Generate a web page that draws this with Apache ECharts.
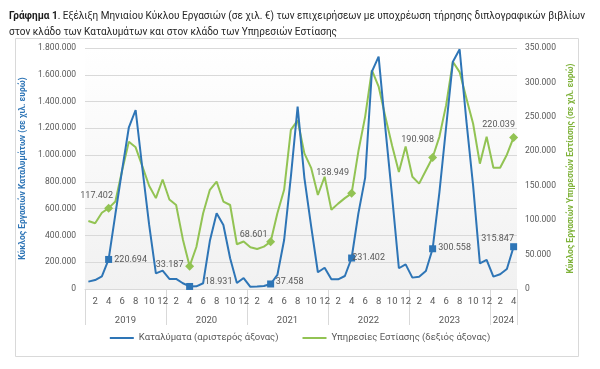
<!DOCTYPE html>
<html><head><meta charset="utf-8">
<script src="https://cdn.jsdelivr.net/npm/echarts@6/dist/echarts.min.js"></script>
<style>html,body{margin:0;padding:0;background:#fff}#c{width:600px;height:369px}</style>
</head><body><div id="c"></div>
<script>
// ---- data ----
const monthLabels = ['1','2','3','4','5','6','7','8','9','10','11','12',
  '1','2','3','4','5','6','7','8','9','10','11','12',
  '1','2','3','4','5','6','7','8','9','10','11','12',
  '1','2','3','4','5','6','7','8','9','10','11','12',
  '1','2','3','4','5','6','7','8','9','10','11','12',
  '1','2','3','4'];
const yearLabels = ['2019','2020','2021','2022','2023','2024'];
const yearBoundaries = [0,12,24,36,48,60,64];
const yearCenters = [6,18,30,42,54,62];

const accommodation = [
  55000, 67000, 95000, 220694, 560000, 890000, 1208000, 1337000, 900000, 480000, 117000, 137000,
  75000, 75000, 43000, 18931, 20000, 43000, 360000, 565000, 478000, 230000, 45000, 82000,
  16000, 18000, 22000, 37458, 105000, 366000, 840000, 1362000, 830000, 470000, 125000, 159000,
  72000, 72000, 97000, 231402, 565000, 830000, 1623000, 1735000, 1200000, 690000, 155000, 184000,
  85000, 92000, 134000, 300558, 720000, 1210000, 1698000, 1790000, 1255000, 770000, 192000, 217000,
  92000, 110000, 149000, 315847
];
const foodService = [
  98700, 95400, 110800, 117402, 127000, 172000, 214000, 205700, 178000, 150000, 132000, 159000,
  130000, 122000, 72000, 33187, 61000, 110000, 144000, 156000, 127000, 122000, 65000, 69000,
  60500, 58000, 61500, 68601, 110000, 144000, 231000, 245000, 197000, 176000, 136500, 163000,
  115000, 124000, 132000, 138949, 200000, 250000, 318000, 294000, 250000, 208000, 170000, 207000,
  163000, 153000, 172000, 190908, 221000, 267000, 330000, 315000, 277000, 240000, 182000, 221000,
  176000, 176000, 195000, 220039
];
const markedIdx = [3,15,27,39,51,63];

// ---- styling ----
const FONT = "Roboto,sans-serif";
const GRAY = '#595959';
const BLUE = '#2E75B6';
const GREEN = '#92C353';
const blueLabelOffsets = [[22,0],[29,-5],[19,-2],[17,0],[22,-1],[-16,-8]];
const greenLabelOffsets = [[-12,-12],[-20,-1],[-17,-7],[-19,-21],[-15,-18],[-15,-13]];

function fmt(v){ return String(Math.round(v)).replace(/\B(?=(\d{3})+(?!\d))/g,'.'); }

function build(values, symbol, offsets){
  return values.map((v,i)=>{
    const k = markedIdx.indexOf(i);
    if (k < 0) return {value:v, symbol:'none'};
    return {value:v, symbol:symbol, symbolSize: symbol==='diamond'?9:7,
      label:{show:true, position:'inside', offset:offsets[k], formatter:fmt(v),
        color:GRAY, fontSize:9, fontFamily:FONT}};
  });
}

const chart = echarts.init(document.getElementById('c'), null, {renderer:'canvas'});
chart.setOption({
  animation:false,
  backgroundColor:'#fff',
  textStyle:{fontFamily:FONT},
  title:{
    left:4, top:3,
    text:'{b|Γράφημα 1}. Εξέλιξη Μηνιαίου Κύκλου Εργασιών (σε χιλ. €) των επιχειρήσεων με υποχρέωση τήρησης διπλογραφικών βιβλίων\nστον κλάδο των Καταλυμάτων και στον κλάδο των Υπηρεσιών Εστίασης',
    textStyle:{fontSize:10, fontWeight:'normal', color:'#262626', fontFamily:FONT, lineHeight:16,
      rich:{b:{fontSize:10, fontWeight:'bold', color:'#1a1a1a', fontFamily:FONT, lineHeight:16}}}
  },
  graphic:[{type:'rect', shape:{x:15.5,y:38.5,width:563,height:318}, style:{fill:'none', stroke:'#d9d9d9', lineWidth:1}, z:-10}],
  grid:{left:85, right:83, top:48, bottom:80, show:true, borderWidth:0,
    backgroundColor:new echarts.graphic.LinearGradient(0,0,0,1,[{offset:0,color:'#ffffff'},{offset:1,color:'#f1f1f1'}])},
  legend:{bottom:21, left:'center', icon:'rect', itemWidth:24, itemHeight:2, itemGap:24,
    textStyle:{color:GRAY, fontSize:9.5, fontFamily:FONT},
    data:['Καταλύματα (αριστερός άξονας)','Υπηρεσίες Εστίασης (δεξιός άξονας)']},
  xAxis:[
    {type:'category', data:monthLabels, boundaryGap:true,
      axisLine:{lineStyle:{color:'#d9d9d9'}}, axisTick:{show:false},
      axisLabel:{interval:0, margin:8, color:GRAY, fontSize:9.5, fontFamily:FONT,
        formatter:(v)=> (parseInt(v)%2===0 ? v : '')}},
    {type:'value', min:0, max:64, position:'bottom', gridIndex:0,
      axisLine:{show:false}, splitLine:{show:false},
      axisTick:{show:true, inside:false, length:36, customValues:yearBoundaries, lineStyle:{color:'#d9d9d9'}},
      axisLabel:{margin:27, color:GRAY, fontSize:9.5, fontFamily:FONT, customValues:yearCenters,
        formatter:(v)=> yearLabels[yearCenters.indexOf(Math.round(v))] || ''}}
  ],
  yAxis:[
    {type:'value', min:0, max:1800000, interval:200000,
      name:'Κύκλος Εργασιών Καταλυμάτων (σε χιλ. ευρώ)', nameLocation:'middle', nameGap:57,
      nameTextStyle:{color:BLUE, fontWeight:'bold', fontSize:8.5, fontFamily:FONT},
      axisLine:{show:false}, axisTick:{show:false},
      axisLabel:{margin:9, color:GRAY, fontSize:8.5, fontFamily:FONT, formatter:fmt},
      splitLine:{lineStyle:{color:'#d9d9d9'}}},
    {type:'value', min:0, max:350000, interval:50000,
      name:'Κύκλος Εργασιών Υπηρεσιών Εστίασης (σε χιλ. ευρώ)', nameLocation:'middle', nameGap:42,
      nameTextStyle:{color:'#7FB23A', fontWeight:'bold', fontSize:8.5, fontFamily:FONT},
      axisLine:{show:false}, axisTick:{show:false},
      axisLabel:{margin:8, color:GRAY, fontSize:8.5, fontFamily:FONT, formatter:fmt},
      splitLine:{show:false}}
  ],
  series:[
    {name:'Καταλύματα (αριστερός άξονας)', type:'line', xAxisIndex:0, yAxisIndex:0,
      data:build(accommodation,'rect',blueLabelOffsets), showAllSymbol:true,
      lineStyle:{color:BLUE, width:2}, itemStyle:{color:BLUE}, z:3},
    {name:'Υπηρεσίες Εστίασης (δεξιός άξονας)', type:'line', xAxisIndex:0, yAxisIndex:1,
      data:build(foodService,'diamond',greenLabelOffsets), showAllSymbol:true,
      lineStyle:{color:GREEN, width:2}, itemStyle:{color:GREEN}, z:2}
  ]
});
</script></body></html>
